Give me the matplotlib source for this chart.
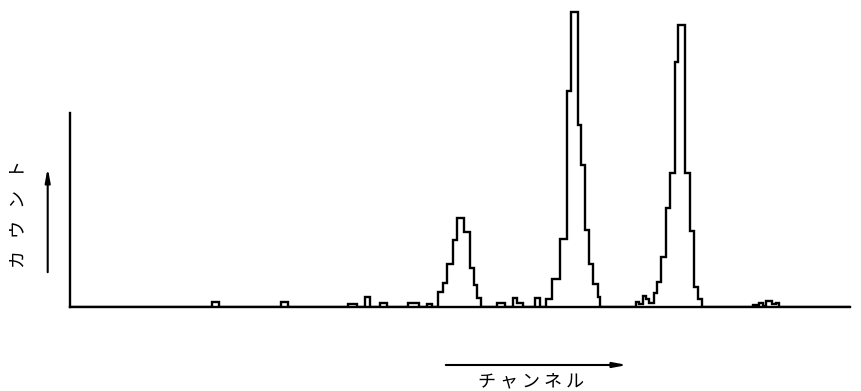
import matplotlib
matplotlib.use('Agg')
import matplotlib.pyplot as plt
import numpy as np

plt.rcParams['font.family'] = ['Noto Sans CJK JP', 'DejaVu Sans']

# channel bin edges (arbitrary channel units) and counts
edges = [0, 141.7, 149.3, 210.7, 218.3, 278.3, 286.7, 295, 300, 310, 316.7,
         338.3, 349.3, 356.7, 362, 368.3, 373, 376.5, 382.7, 386.7, 394.3,
         400, 403.5, 407, 411, 427.3, 435, 442.7, 447.3, 452.5, 465, 470,
         476, 481.5, 489.5, 497, 501, 507.5, 511, 515, 519, 523, 527.5, 530,
         566, 568.5, 572.5, 576, 578.5, 583.5, 586.7, 590.7, 595.7, 600, 605,
         608.3, 615, 619.5, 623.5, 627.5, 631.5, 683, 689, 692.5, 696, 702,
         706, 709, 780]
counts = [0, 4.7, 0, 4.7, 0, 3, 0, 10.3, 0, 4.3,
          0, 3.7, 0, 3.5, 0, 15, 24.5, 43, 67, 88.7,
          75.3, 39, 22, 9, 0, 4, 0, 9, 4, 0,
          9.5, 0, 8, 28, 67.7, 216.5, 294.7, 182.5, 142, 77,
          43, 23, 10, 0, 5, 3, 11, 8, 4, 14.3,
          25.3, 50.3, 98.7, 133.7, 245, 282, 134, 76, 20, 8,
          0, 2.5, 4, 1.5, 6, 3, 4.5, 0]

y_axis_top = 194
ylabel = 'カ   ウ   ン   ト'
xlabel = 'チ ャ ン ネ ル'

W, H = 861, 391
fig = plt.figure(figsize=(W / 100, H / 100), dpi=100)
ax = fig.add_axes([70 / W, (H - 307) / H, 780 / W, 302 / H])

ax.stairs(counts, edges, baseline=0, color='black', lw=1.7)

ax.set_xlim(0, 780)
ax.set_ylim(0, 302)
for s in ['top', 'right']:
    ax.spines[s].set_visible(False)
ax.spines['left'].set_bounds(0, y_axis_top)
ax.spines['left'].set_linewidth(1.7)
ax.spines['bottom'].set_linewidth(1.7)
ax.set_xticks([])
ax.set_yticks([])

arrow = dict(arrowstyle='-|>,head_length=0.8,head_width=0.15', color='black', lw=1.5)
ax.annotate('', xy=(47.7 / W, 1 - 165 / H), xytext=(47.7 / W, 1 - 275 / H),
            xycoords='figure fraction', textcoords='figure fraction', arrowprops=arrow)
ax.annotate('', xy=(630 / W, 1 - 365 / H), xytext=(443 / W, 1 - 365 / H),
            xycoords='figure fraction', textcoords='figure fraction', arrowprops=arrow)

fig.text(18 / W, 1 - 214 / H, ylabel, rotation=90, ha='center', va='center', fontsize=13)
fig.text(531 / W, 1 - 381 / H, xlabel, ha='center', va='center', fontsize=13)

fig.savefig('out.png', dpi=100)
